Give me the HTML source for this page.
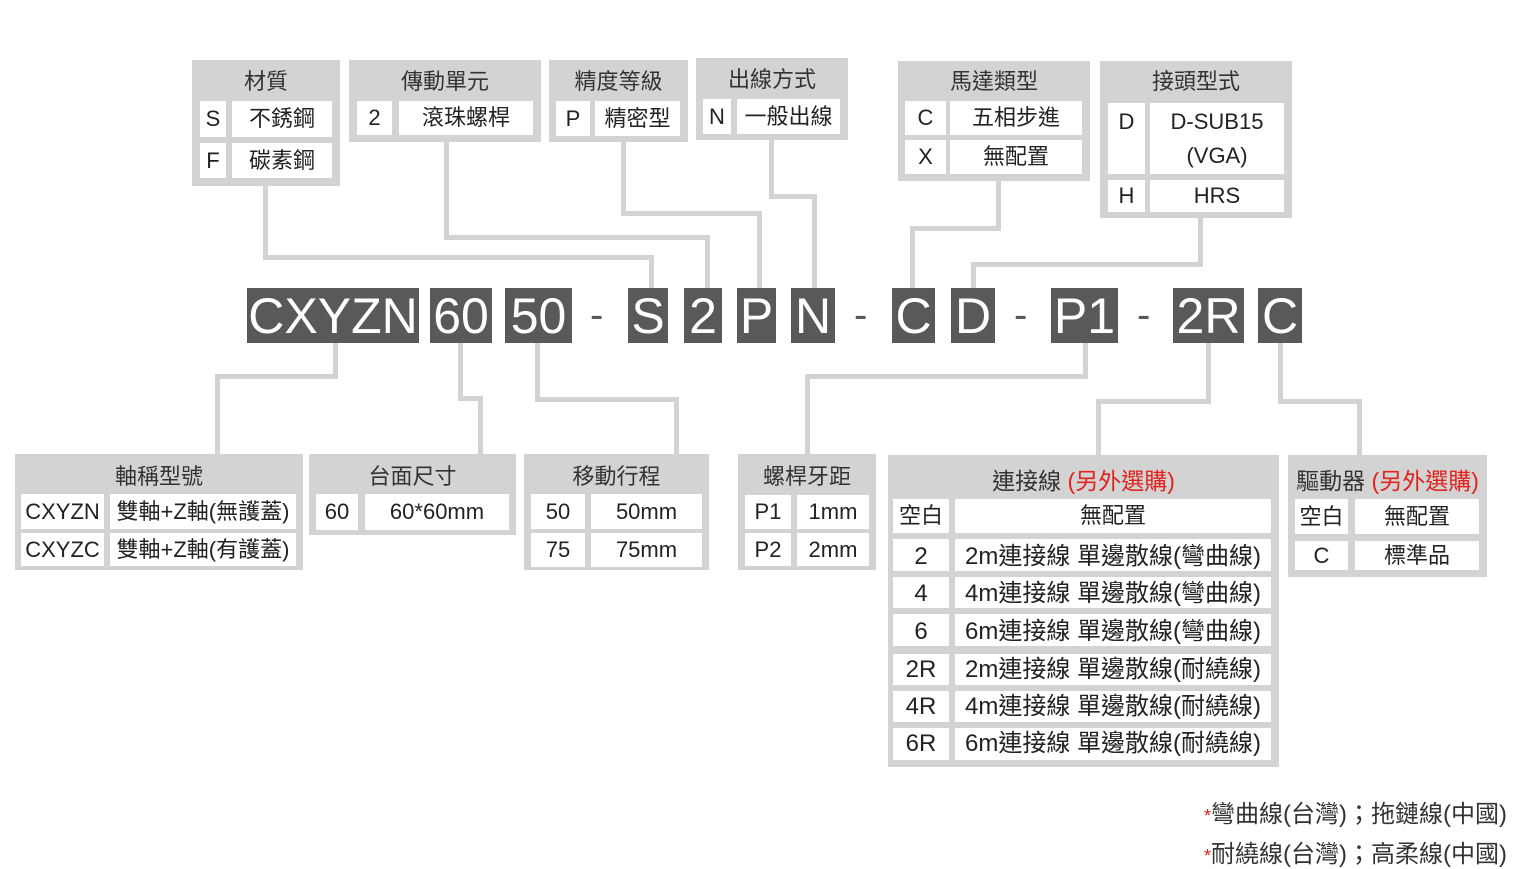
<!DOCTYPE html>
<html><head><meta charset="utf-8"><style>
*{margin:0;padding:0;box-sizing:border-box}
body{width:1525px;height:863px;background:#fff;position:relative;overflow:hidden;font-family:"Liberation Sans","Noto Sans CJK TC",sans-serif;color:#222}
div{position:absolute}
.b{background:#d3d3d3}
.c{background:#fff;text-align:center;font-size:22px;white-space:nowrap}
.w{font-size:24px}
.t{text-align:center;font-size:22px;color:#333;white-space:nowrap}
.l{background:#d3d3d3}
.k{background:#595959;color:#fff;font-size:50px;text-align:center;line-height:57px;top:288px;height:55px;overflow:hidden}
.d{font-size:40px;color:#595959;top:288px;line-height:55px}
.r{color:#e0231c}
</style></head><body>

<!-- connectors top -->
<div class="l" style="left:263px;top:186px;width:5px;height:74px"></div>
<div class="l" style="left:263px;top:255px;width:391px;height:5px"></div>
<div class="l" style="left:649px;top:255px;width:5px;height:33px"></div>

<div class="l" style="left:444px;top:142px;width:5px;height:97px"></div>
<div class="l" style="left:444px;top:235px;width:266px;height:5px"></div>
<div class="l" style="left:705px;top:235px;width:5px;height:53px"></div>

<div class="l" style="left:621px;top:142px;width:5px;height:74px"></div>
<div class="l" style="left:621px;top:211px;width:140px;height:5px"></div>
<div class="l" style="left:757px;top:211px;width:5px;height:77px"></div>

<div class="l" style="left:769px;top:140px;width:5px;height:57px"></div>
<div class="l" style="left:769px;top:194px;width:48px;height:5px"></div>
<div class="l" style="left:812px;top:194px;width:5px;height:94px"></div>

<div class="l" style="left:996px;top:181px;width:5px;height:50px"></div>
<div class="l" style="left:910px;top:226px;width:91px;height:5px"></div>
<div class="l" style="left:910px;top:226px;width:5px;height:62px"></div>

<div class="l" style="left:1198px;top:218px;width:5px;height:49px"></div>
<div class="l" style="left:971px;top:262px;width:232px;height:5px"></div>
<div class="l" style="left:971px;top:262px;width:5px;height:26px"></div>

<!-- connectors bottom -->
<div class="l" style="left:333px;top:343px;width:5px;height:36px"></div>
<div class="l" style="left:215px;top:374px;width:123px;height:5px"></div>
<div class="l" style="left:215px;top:374px;width:5px;height:81px"></div>

<div class="l" style="left:458px;top:343px;width:5px;height:58px"></div>
<div class="l" style="left:458px;top:396px;width:25px;height:5px"></div>
<div class="l" style="left:478px;top:396px;width:5px;height:59px"></div>

<div class="l" style="left:535px;top:343px;width:5px;height:59px"></div>
<div class="l" style="left:535px;top:397px;width:144px;height:5px"></div>
<div class="l" style="left:674px;top:397px;width:5px;height:58px"></div>

<div class="l" style="left:1083px;top:343px;width:5px;height:36px"></div>
<div class="l" style="left:805px;top:374px;width:283px;height:5px"></div>
<div class="l" style="left:805px;top:374px;width:5px;height:81px"></div>

<div class="l" style="left:1206px;top:343px;width:5px;height:61px"></div>
<div class="l" style="left:1096px;top:399px;width:115px;height:5px"></div>
<div class="l" style="left:1096px;top:399px;width:5px;height:56px"></div>

<div class="l" style="left:1278px;top:343px;width:5px;height:61px"></div>
<div class="l" style="left:1278px;top:399px;width:84px;height:5px"></div>
<div class="l" style="left:1357px;top:399px;width:5px;height:56px"></div>

<!-- code row -->
<div class="k" style="left:247px;width:172px">CXYZN</div>
<div class="k" style="left:430px;width:62px">60</div>
<div class="k" style="left:505px;width:67px">50</div>
<div class="d" style="left:590px">-</div>
<div class="k" style="left:628px;width:40px">S</div>
<div class="k" style="left:684px;width:38px">2</div>
<div class="k" style="left:737px;width:39px">P</div>
<div class="k" style="left:791px;width:44px">N</div>
<div class="d" style="left:854px">-</div>
<div class="k" style="left:892px;width:43px">C</div>
<div class="k" style="left:951px;width:44px">D</div>
<div class="d" style="left:1014px">-</div>
<div class="k" style="left:1051px;width:67px">P1</div>
<div class="d" style="left:1137px">-</div>
<div class="k" style="left:1173px;width:71px">2R</div>
<div class="k" style="left:1258px;width:44px">C</div>

<!-- 材質 -->
<div class="b" style="left:192px;top:60px;width:148px;height:126px"></div>
<div class="t" style="left:192px;top:64px;width:148px">材質</div>
<div class="c" style="left:200px;top:101px;width:26px;height:36px;line-height:36px">S</div>
<div class="c" style="left:232px;top:101px;width:100px;height:36px;line-height:36px">不銹鋼</div>
<div class="c" style="left:200px;top:143px;width:26px;height:35px;line-height:35px">F</div>
<div class="c" style="left:232px;top:143px;width:100px;height:35px;line-height:35px">碳素鋼</div>

<!-- 傳動單元 -->
<div class="b" style="left:349px;top:60px;width:192px;height:82px"></div>
<div class="t" style="left:349px;top:64px;width:192px">傳動單元</div>
<div class="c" style="left:357px;top:101px;width:35px;height:34px;line-height:34px">2</div>
<div class="c" style="left:399px;top:101px;width:134px;height:34px;line-height:34px">滾珠螺桿</div>

<!-- 精度等級 -->
<div class="b" style="left:549px;top:60px;width:139px;height:82px"></div>
<div class="t" style="left:549px;top:64px;width:139px">精度等級</div>
<div class="c" style="left:556px;top:101px;width:34px;height:35px;line-height:35px">P</div>
<div class="c" style="left:595px;top:101px;width:85px;height:35px;line-height:35px">精密型</div>

<!-- 出線方式 -->
<div class="b" style="left:696px;top:58px;width:152px;height:82px"></div>
<div class="t" style="left:696px;top:62px;width:152px">出線方式</div>
<div class="c" style="left:703px;top:99px;width:28px;height:35px;line-height:35px">N</div>
<div class="c" style="left:737px;top:99px;width:103px;height:35px;line-height:35px">一般出線</div>

<!-- 馬達類型 -->
<div class="b" style="left:898px;top:61px;width:192px;height:120px"></div>
<div class="t" style="left:898px;top:64px;width:192px">馬達類型</div>
<div class="c" style="left:905px;top:101px;width:41px;height:34px;line-height:34px">C</div>
<div class="c" style="left:950px;top:101px;width:132px;height:34px;line-height:34px">五相步進</div>
<div class="c" style="left:905px;top:140px;width:41px;height:34px;line-height:34px">X</div>
<div class="c" style="left:950px;top:140px;width:132px;height:34px;line-height:34px">無配置</div>

<!-- 接頭型式 -->
<div class="b" style="left:1100px;top:61px;width:192px;height:157px"></div>
<div class="t" style="left:1100px;top:64px;width:192px">接頭型式</div>
<div class="c" style="left:1108px;top:103px;width:37px;height:71px;line-height:38px">D</div>
<div class="c" style="left:1150px;top:103px;width:134px;height:71px;line-height:34px;padding-top:2px">D-SUB15<br>(VGA)</div>
<div class="c" style="left:1108px;top:180px;width:37px;height:32px;line-height:32px">H</div>
<div class="c" style="left:1150px;top:180px;width:134px;height:32px;line-height:32px">HRS</div>

<!-- 軸稱型號 -->
<div class="b" style="left:15px;top:454px;width:288px;height:116px"></div>
<div class="t" style="left:15px;top:459px;width:288px">軸稱型號</div>
<div class="c" style="left:21px;top:494px;width:83px;height:35px;line-height:35px">CXYZN</div>
<div class="c" style="left:110px;top:494px;width:186px;height:35px;line-height:35px">雙軸+Z軸(無護蓋)</div>
<div class="c" style="left:21px;top:533px;width:83px;height:33px;line-height:33px">CXYZC</div>
<div class="c" style="left:110px;top:533px;width:186px;height:33px;line-height:33px">雙軸+Z軸(有護蓋)</div>

<!-- 台面尺寸 -->
<div class="b" style="left:309px;top:454px;width:207px;height:81px"></div>
<div class="t" style="left:309px;top:459px;width:207px">台面尺寸</div>
<div class="c" style="left:316px;top:494px;width:42px;height:36px;line-height:36px">60</div>
<div class="c" style="left:365px;top:494px;width:144px;height:36px;line-height:36px">60*60mm</div>

<!-- 移動行程 -->
<div class="b" style="left:524px;top:454px;width:185px;height:116px"></div>
<div class="t" style="left:524px;top:459px;width:185px">移動行程</div>
<div class="c" style="left:531px;top:494px;width:54px;height:35px;line-height:35px">50</div>
<div class="c" style="left:591px;top:494px;width:111px;height:35px;line-height:35px">50mm</div>
<div class="c" style="left:531px;top:533px;width:54px;height:34px;line-height:34px">75</div>
<div class="c" style="left:591px;top:533px;width:111px;height:34px;line-height:34px">75mm</div>

<!-- 螺桿牙距 -->
<div class="b" style="left:738px;top:454px;width:138px;height:116px"></div>
<div class="t" style="left:738px;top:459px;width:138px">螺桿牙距</div>
<div class="c" style="left:745px;top:495px;width:46px;height:34px;line-height:34px">P1</div>
<div class="c" style="left:797px;top:495px;width:72px;height:34px;line-height:34px">1mm</div>
<div class="c" style="left:745px;top:533px;width:46px;height:33px;line-height:33px">P2</div>
<div class="c" style="left:797px;top:533px;width:72px;height:33px;line-height:33px">2mm</div>

<!-- 連接線 -->
<div class="b" style="left:888px;top:455px;width:391px;height:312px"></div>
<div class="t" style="left:888px;top:462px;width:391px;font-size:23px">連接線 <span class="r">(另外選購)</span></div>
<div class="c" style="left:893px;top:499px;width:56px;height:34px;line-height:34px">空白</div>
<div class="c" style="left:955px;top:499px;width:316px;height:34px;line-height:34px">無配置</div>
<div class="c w" style="left:893px;top:539px;width:56px;height:32px;line-height:36px">2</div>
<div class="c w" style="left:955px;top:539px;width:316px;height:32px;line-height:36px">2m連接線 單邊散線(彎曲線)</div>
<div class="c w" style="left:893px;top:577px;width:56px;height:31px;line-height:33px">4</div>
<div class="c w" style="left:955px;top:577px;width:316px;height:31px;line-height:33px">4m連接線 單邊散線(彎曲線)</div>
<div class="c w" style="left:893px;top:614px;width:56px;height:32px;line-height:36px">6</div>
<div class="c w" style="left:955px;top:614px;width:316px;height:32px;line-height:36px">6m連接線 單邊散線(彎曲線)</div>
<div class="c w" style="left:893px;top:654px;width:56px;height:31px;line-height:31px">2R</div>
<div class="c w" style="left:955px;top:654px;width:316px;height:31px;line-height:31px">2m連接線 單邊散線(耐繞線)</div>
<div class="c w" style="left:893px;top:691px;width:56px;height:31px;line-height:31px">4R</div>
<div class="c w" style="left:955px;top:691px;width:316px;height:31px;line-height:31px">4m連接線 單邊散線(耐繞線)</div>
<div class="c w" style="left:893px;top:728px;width:56px;height:32px;line-height:32px">6R</div>
<div class="c w" style="left:955px;top:728px;width:316px;height:32px;line-height:32px">6m連接線 單邊散線(耐繞線)</div>

<!-- 驅動器 -->
<div class="b" style="left:1288px;top:455px;width:199px;height:122px"></div>
<div class="t" style="left:1288px;top:462px;width:199px;font-size:23px">驅動器 <span class="r">(另外選購)</span></div>
<div class="c" style="left:1295px;top:499px;width:53px;height:35px;line-height:35px">空白</div>
<div class="c" style="left:1355px;top:499px;width:124px;height:35px;line-height:35px">無配置</div>
<div class="c" style="left:1295px;top:541px;width:53px;height:29px;line-height:29px">C</div>
<div class="c" style="left:1355px;top:541px;width:124px;height:29px;line-height:29px">標準品</div>

<!-- footnotes -->
<div class="t" style="right:18px;top:794px;font-size:24px;text-align:right"><span class="r" style="font-size:18px">*</span>彎曲線(台灣)；拖鏈線(中國)</div>
<div class="t" style="right:18px;top:834px;font-size:24px;text-align:right"><span class="r" style="font-size:18px">*</span>耐繞線(台灣)；高柔線(中國)</div>

</body></html>
